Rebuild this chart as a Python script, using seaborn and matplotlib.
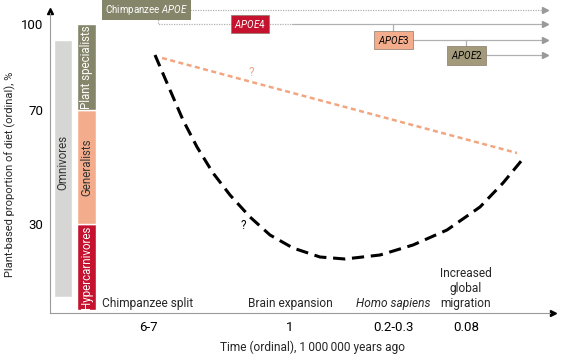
import numpy as np
import pandas as pd
import seaborn as sns
import matplotlib.pyplot as plt

# ordinal time positions (x) and diet level (y, %)
tick_pos = [0.98, 2.40, 3.43, 4.16]
tick_labels = ['6-7', '1', '0.2-0.3', '0.08']
event_labels = ['Chimpanzee split', 'Brain expansion', 'Homo sapiens', 'Increased\nglobal\nmigration']

y_ticks = [100, 70, 30]

diet_names = ['Hypercarnivores', 'Generalists', 'Plant specialists']
diet_low = [0, 30, 70]
diet_high = [30, 70, 100]
diet_colors = ['#c4122f', '#f4ad8c', '#85856a']
diet_text = ['white', '#333333', 'white']
omni_range = [4.5, 94.4]

# black dashed curve
curve_x = [1.05, 1.20, 1.33, 1.47, 1.63, 1.80, 2.00, 2.20, 2.43, 2.70, 2.95,
           3.30, 3.63, 3.97, 4.30, 4.53, 4.72]
curve_y = [89.15, 76.9, 66.4, 56.95, 47.85, 40.15, 32.45, 26.15, 21.6, 18.45, 17.75,
           19.15, 22.65, 27.9, 35.95, 44.35, 52.4]
# orange dashed line
alt_x = [1.12, 4.67]
alt_y = [88.1, 54.85]

# APOE lineage boxes
apoe_names = ['Chimpanzee $\\it{APOE}$', '$\\it{APOE4}$', '$\\it{APOE3}$', '$\\it{APOE2}$']
apoe_x = [0.965, 2.00, 3.435, 4.165]
apoe_y = [104.9, 100.0, 94.4, 89.0]
apoe_colors = ['#85856a', '#c4122f', '#f4ad8c', '#a39a7c']
apoe_text = ['white', 'white', 'black', 'black']

sns.set_style('white')
plt.rcParams['font.family'] = ['Roboto', 'DejaVu Sans']
plt.rcParams['mathtext.fontset'] = 'custom'
plt.rcParams['mathtext.rm'] = 'Roboto'
plt.rcParams['mathtext.it'] = 'Roboto:italic'

fig = plt.figure(figsize=(5.68, 3.54), dpi=100)
ax = fig.add_axes([50 / 568, 41 / 354, 507 / 568, 313 / 354])
ax.set_xlim(0, 5.07)
ax.set_ylim(-1.15, 108.4)

grey = '#9a9a9a'
for s in ['top', 'right']:
    ax.spines[s].set_visible(False)
ax.spines['left'].set_color(grey)
ax.spines['bottom'].set_color(grey)
ax.spines['left'].set_bounds(-1.15, 104)
ax.spines['bottom'].set_bounds(0, 5.0)
ax.plot(0, 104.5, marker='^', color='black', markersize=5, clip_on=False)
ax.plot(5.03, -1.15, marker='>', color='black', markersize=5, clip_on=False)

ax.set_yticks(y_ticks)
ax.set_yticklabels([str(v) for v in y_ticks], fontsize=9.5)
ax.set_xticks(tick_pos)
ax.set_xticklabels(tick_labels, fontsize=9.5)
ax.tick_params(axis='both', colors=grey, length=3, width=0.8, labelcolor='black')
ax.tick_params(axis='y', pad=2)
ax.tick_params(axis='x', pad=3)

# diet bars
ax.bar(0.13, omni_range[1] - omni_range[0], bottom=omni_range[0], width=0.18,
       color='#d6d6d4', zorder=2)
ax.text(0.13, (omni_range[0] + omni_range[1]) / 2 + 2, 'Omnivores', rotation=90,
        ha='center', va='center', fontsize=8.3, color='#333333')
for name, lo, hi, c, tc in zip(diet_names, diet_low, diet_high, diet_colors, diet_text):
    ax.bar(0.365, hi - lo, bottom=lo, width=0.19, color=c, zorder=2)
    ax.text(0.365, (lo + hi) / 2, name, rotation=90, ha='center', va='center',
            fontsize=8.3, color=tc)

# curves
df_curve = pd.DataFrame({'x': curve_x, 'y': curve_y})
sns.lineplot(data=df_curve, x='x', y='y', ax=ax, color='black', lw=2.2,
             linestyle=(0, (4, 2.2)), sort=False)
df_alt = pd.DataFrame({'x': alt_x, 'y': alt_y})
sns.lineplot(data=df_alt, x='x', y='y', ax=ax, color='#f2a581', lw=1.8,
             linestyle=(0, (2, 1.4)), sort=False)
ax.text(2.01, 83.2, '?', color='#f2a581', fontsize=8.5, ha='center', va='center')
ax.text(1.93, 29.6, '?', color='black', fontsize=8.5, ha='center', va='center')
ax.set_xlabel('')
ax.set_ylabel('')

# event labels along time axis
for x, lab in zip(tick_pos, event_labels):
    style = 'italic' if lab == 'Homo sapiens' else 'normal'
    ax.text(x, 0.95, lab, ha='center', va='baseline', fontsize=8.6,
            style=style, linespacing=1.2)

# APOE lineage
line_c = '#b0b0b0'
dot = (0, (1, 1))
arrow_end = 4.95
ax.plot([1.40, arrow_end], [apoe_y[0]] * 2, color=line_c, lw=0.9, ls=dot, clip_on=False)
ax.plot([1.08, 1.08, 1.83], [102.5, apoe_y[1], apoe_y[1]], color=line_c, lw=0.9,
        ls=dot, clip_on=False)
ax.plot([2.17, 2.42], [apoe_y[1]] * 2, color=line_c, lw=0.9, ls=dot, clip_on=False)
ax.plot([2.42, arrow_end], [apoe_y[1]] * 2, color=line_c, lw=0.9, clip_on=False)
ax.plot([apoe_x[2], apoe_x[2]], [apoe_y[1], apoe_y[2]], color=line_c, lw=0.9)
ax.plot([apoe_x[2], arrow_end], [apoe_y[2]] * 2, color=line_c, lw=0.9)
ax.plot([apoe_x[3], apoe_x[3]], [apoe_y[2], apoe_y[3]], color=line_c, lw=0.9)
ax.plot([apoe_x[3], arrow_end], [apoe_y[3]] * 2, color=line_c, lw=0.9)
for yy in apoe_y:
    ax.plot(arrow_end, yy, marker='>', color='#999999', markersize=5, clip_on=False)

for name, x, y, c, tc in zip(apoe_names, apoe_x, apoe_y, apoe_colors, apoe_text):
    ec = 'none' if c == '#85856a' else '#8a7a6a'
    ax.text(x, y, name, ha='center', va='center', fontsize=7, color=tc,
            bbox=dict(boxstyle='square,pad=0.35', fc=c, ec=ec, lw=0.5),
            clip_on=False, zorder=4)

fig.text(10 / 568, 1 - 174 / 354, 'Plant-based proportion of diet (ordinal), %',
         rotation=90, ha='center', va='center', fontsize=8)
fig.text(312 / 568, 1 - 347 / 354, 'Time (ordinal), 1\u2009000\u2009000 years ago',
         ha='center', va='center', fontsize=8.6)

fig.savefig('out.png', dpi=100)
